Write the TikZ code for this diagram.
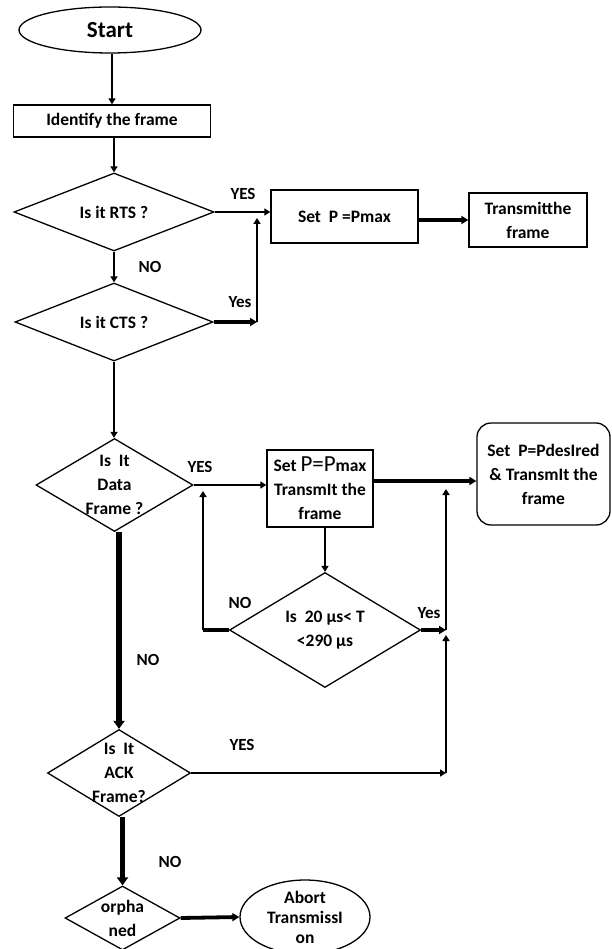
\documentclass[tikz,border=0pt]{standalone}
\usepackage{fontspec}
\setmainfont{Carlito}
\usetikzlibrary{shapes.geometric,arrows.meta}
\newcommand{\nodefnt}{\fontsize{17.5}{24}\selectfont\bfseries}
\newcommand{\labfnt}{\fontsize{17}{20}\selectfont\bfseries}
\begin{document}
\begin{tikzpicture}[x=1pt,y=-1pt,
  shp/.style={draw, line width=1.3pt, inner sep=0pt},
  boxnode/.style={shp, rectangle, align=center, font=\nodefnt},
  dia/.style={shp, diamond},
  ell/.style={shp, ellipse},
  txt/.style={font=\nodefnt, align=center, inner sep=0pt},
  conn/.style={line width=2.8pt, line join=miter, -{Triangle[length=6pt,width=7pt]}},
  connb/.style={line width=3.8pt, line join=miter, -{Triangle[length=7pt,width=8pt]}},
  wide/.style={line width=5.5pt, -{Triangle[length=8pt,width=11pt]}},
  lbl/.style={font=\labfnt, inner sep=0pt}
]
\fill[white] (0,0) rectangle (611,949);
\useasboundingbox (0,0) rectangle (611,949);

% nodes
\node[ell, minimum width=182pt, minimum height=46pt, font=\fontsize{23}{25}\selectfont\bfseries] (start) at (110,30) {Start};
\node[boxnode, minimum width=197pt, minimum height=32pt] (ident) at (112,121) {Identify the frame};
\node[dia, minimum width=200pt, minimum height=78pt, label={[txt]center:Is it RTS ?}] (rts) at (114,212) {};
\node[dia, minimum width=198pt, minimum height=78pt, label={[txt]center:Is it CTS ?}] (cts) at (114,322) {};
\node[boxnode, minimum width=147pt, minimum height=53pt] (set1) at (344.5,216.5) {Set~~P =Pmax};
\node[boxnode, minimum width=118pt, minimum height=54pt] (trans) at (528,220) {Transmitthe\\frame};
\node[dia, minimum width=157pt, minimum height=93pt, label={[txt]center:Is~~It\\Data\\Frame ?}] (data) at (114.5,485) {};
\node[boxnode, minimum width=106pt, minimum height=77pt] (set2) at (320,488.5) {Set {\fontsize{23}{24}\selectfont\mdseries P=P}max\\TransmIt the\\frame};
\node[boxnode, rounded corners=14pt, minimum width=133pt, minimum height=102pt] (pdes) at (543.5,474) {Set~~P=PdesIred\\\& TransmIt the\\frame};
\node[dia, minimum width=191pt, minimum height=115pt, label={[txt]center:Is~~20 µs< T\\<290 µs}] (t20) at (325,630) {};
\node[dia, minimum width=143pt, minimum height=87pt, label={[txt]center:Is~~It\\ACK\\Frame?}] (ack) at (119,773) {};
\node[dia, minimum width=115pt, minimum height=64pt, label={[txt]center:orpha\\ned}] (orph) at (122.5,918) {};
\node[ell, minimum width=130pt, minimum height=74pt, label={[txt, font=\fontsize{17.5}{20}\selectfont\bfseries]center:Abort\\TransmissI\\on}] (abort) at (305,917) {};

% labels
\node[lbl] (l1) at (243,194) {YES};
\node[lbl] (l2) at (150,267) {NO};
\node[lbl] (l3) at (240,302) {Yes};
\node[lbl] (l4) at (200,467) {YES};
\node[lbl] (l5) at (240,603) {NO};
\node[lbl] (l6) at (429,613) {Yes};
\node[lbl] (l7) at (148,660) {NO};
\node[lbl] (l8) at (242,745) {YES};
\node[lbl] (l9) at (170,862) {NO};

% coordinates
\coordinate (cj) at (257,322);
\coordinate (cjtop) at (257,218);
\coordinate (s2r) at (373,481);
\coordinate (nl) at (203,630);
\coordinate (nltop) at (203,491);
\coordinate (rj) at (446,630);
\coordinate (rjtop) at (446,489);
\coordinate (aj) at (446,773);
\coordinate (ajtop) at (446,635);

% connectors
\draw[conn] (start.south -| ident.north) -- (ident.north);
\draw[conn] (ident.south -| rts.north) -- (rts.north);
\draw[conn] (rts.south) -- (cts.north);
\draw[conn] (cts.south) -- (cts.south |- data.north);
\draw[conn] (rts.east) -- (rts.east -| set1.west);
\draw[connb] (cts.east) -- (cj);
\draw[conn] (cj) -- (cjtop);
\draw[connb] (set1.east |- trans.west) -- (trans.west);
\draw[conn] (data.east) -- (data.east -| set2.west);
\draw[connb] (s2r) -- (s2r -| pdes.west);
\draw[conn] (t20.north |- set2.south) -- (t20.north);
\draw[line width=4.5pt] (t20.west) -- (nl);
\draw[conn] (nl) -- (nltop);
\draw[connb] (t20.east) -- (rj);
\draw[conn] (rj) -- (rjtop);
\draw[conn] (ack.east) -- (aj);
\draw[conn] (aj) -- (ajtop);
\draw[wide] (data.south -| ack.north) -- (ack.north);
\draw[wide] (ack.south -| orph.north) -- (orph.north);
\draw[connb] (orph.east) -- (abort.west);
\end{tikzpicture}
\end{document}
